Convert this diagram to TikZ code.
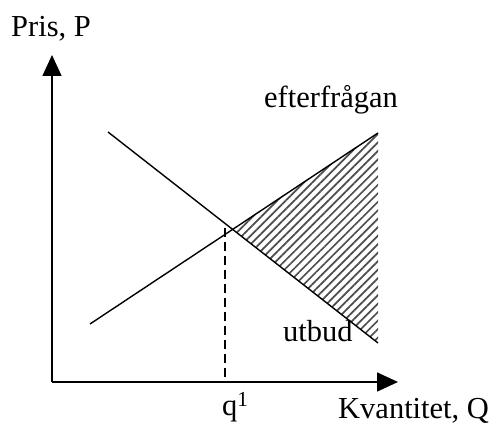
\documentclass[tikz,border=0pt]{standalone}
\usepackage{fontspec}
\setmainfont{Liberation Serif}
\usetikzlibrary{arrows.meta,patterns.meta}
\begin{document}
\begin{tikzpicture}[x=1pt, y=-1pt, font=\fontsize{30.5}{37}\selectfont,
    axis/.style={line width=1.6pt, -{Triangle[length=21pt,width=19pt]}},
    curve/.style={line width=1.4pt},
    lbl/.style={inner sep=0pt, anchor=base west}]
    \useasboundingbox (0,0) rectangle (504,427);
    % axes
    \coordinate (O) at (52,382);
    \coordinate (ytip) at (52,55);
    \coordinate (xtip) at (398,382);
    \draw[axis] (O) -- (ytip);
    \draw[axis] (O) -- (xtip);
    % lines and shaded area
    \coordinate (d1) at (108,132);
    \coordinate (d2) at (378,343);
    \coordinate (s1) at (90,324);
    \coordinate (s2) at (378,133);
    \coordinate (eq) at (232.5,229.3);
    \coordinate (qtop) at (225,228);
    \coordinate (q) at (225,382);
    \fill[pattern={Lines[angle=45,distance=6pt,line width=1.7pt]}, pattern color=black!70]
        (eq) -- (s2) -- (d2) -- cycle;
    \draw[curve] (d1) -- (d2);
    \draw[curve] (s1) -- (s2);
    \draw[line width=1.3pt, dash pattern=on 9pt off 5pt] (qtop) -- (q);
    % labels
    \node[lbl] (pris) at (11,37) {Pris, P};
    \node[lbl] (eft) at (264,108) {efterfrågan};
    \node[lbl] (utb) at (283,342) {utbud};
    \node[lbl] (q1) at (222,416) {q\textsuperscript{1}};
    \node[lbl] (kv) at (338,419) {Kvantitet, Q};
\end{tikzpicture}
\end{document}
